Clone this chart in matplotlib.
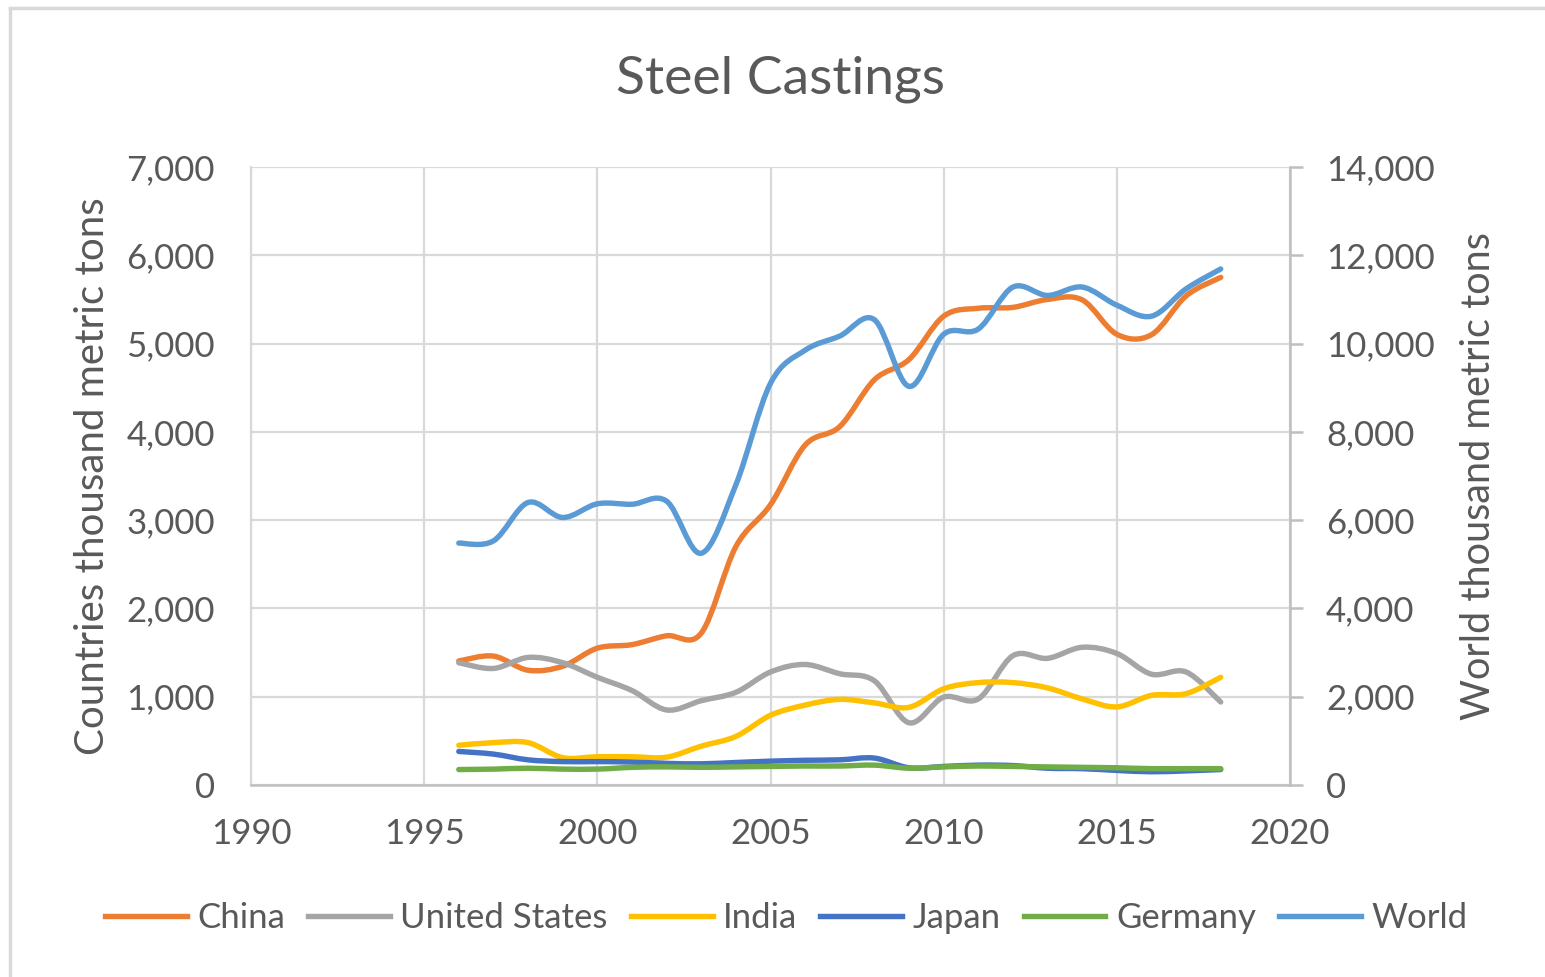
import numpy as np
import matplotlib.pyplot as plt
from matplotlib.path import Path
from matplotlib.patches import PathPatch
from matplotlib.lines import Line2D

plt.rcParams['font.family'] = ['Lato', 'DejaVu Sans']

years = list(range(1996, 2019))

china = [1405, 1460, 1300, 1345, 1550, 1590, 1690, 1720, 2700, 3175, 3850, 4060,
         4590, 4820, 5310, 5400, 5410, 5500, 5495, 5105, 5100, 5540, 5750]
usa = [1385, 1320, 1445, 1385, 1220, 1070, 850, 955, 1050, 1280, 1365, 1260,
       1180, 705, 995, 975, 1465, 1435, 1560, 1490, 1255, 1280, 940]
india = [450, 480, 480, 310, 320, 320, 315, 440, 550, 790, 905, 970,
         930, 880, 1090, 1160, 1160, 1100, 975, 885, 1015, 1035, 1220]
japan = [380, 350, 285, 265, 265, 260, 245, 240, 255, 270, 280, 285,
         305, 195, 210, 225, 220, 190, 185, 165, 150, 160, 175]
germany = [175, 180, 190, 180, 180, 200, 205, 200, 205, 210, 215, 215,
           225, 190, 205, 215, 210, 205, 200, 195, 185, 185, 185]
world = [5480, 5530, 6400, 6060, 6370, 6360, 6430, 5250, 6800, 9100, 9850, 10170,
         10540, 9030, 10210, 10330, 11280, 11090, 11280, 10870, 10620, 11240, 11690]

series_left = [("China", china, "#ED7D31"),
               ("United States", usa, "#A5A5A5"),
               ("India", india, "#FFC000"),
               ("Japan", japan, "#4472C4"),
               ("Germany", germany, "#70AD47")]
world_color = "#5B9BD5"

text_col = "#595959"
grid_col = "#D9D9D9"
axis_col = "#BFBFBF"
LW = 3.9
TICK_FS = 25


def smooth_path(x, y):
    # Catmull-Rom style bezier, like Excel's smoothed lines
    p = np.column_stack([x, y]).astype(float)
    n = len(p)
    verts = [p[0]]
    codes = [Path.MOVETO]
    for i in range(n - 1):
        p0 = p[i - 1] if i > 0 else p[i]
        p3 = p[i + 2] if i + 2 < n else p[i + 1]
        c1 = p[i] + (p[i + 1] - p0) / 6.0
        c2 = p[i + 1] - (p3 - p[i]) / 6.0
        verts += [c1, c2, p[i + 1]]
        codes += [Path.CURVE4] * 3
    return Path(verts, codes)


fig = plt.figure(figsize=(15.45, 9.77), dpi=100)
ax = fig.add_axes([251 / 1545, 1 - 785 / 977, (1290 - 251) / 1545, (785 - 167) / 977])
ax2 = ax.twinx()

for name, vals, col in series_left:
    ax.add_patch(PathPatch(smooth_path(years, vals), facecolor='none', edgecolor=col,
                           lw=LW, capstyle='round', joinstyle='round'))
ax2.add_patch(PathPatch(smooth_path(years, world), facecolor='none', edgecolor=world_color,
                        lw=LW, capstyle='round', joinstyle='round'))

ax.set_xlim(1990, 2020)
ax.set_ylim(0, 7000)
ax2.set_ylim(0, 14000)
ax.set_xticks(range(1990, 2021, 5))
ax.set_yticks(range(0, 7001, 1000))
ax2.set_yticks(range(0, 14001, 2000))
ax.yaxis.set_major_formatter(plt.FuncFormatter(lambda v, p: f"{int(v):,}"))
ax2.yaxis.set_major_formatter(plt.FuncFormatter(lambda v, p: f"{int(v):,}"))

ax.grid(True, color=grid_col, lw=1.6)
ax.set_axisbelow(True)
for s in ['top', 'right']:
    ax.spines[s].set_visible(False)
ax.spines['left'].set_color(grid_col)
ax.spines['left'].set_linewidth(1.6)
ax.spines['bottom'].set_color(axis_col)
ax.spines['bottom'].set_linewidth(1.8)
for s in ['top', 'left', 'bottom']:
    ax2.spines[s].set_visible(False)
ax2.spines['right'].set_color(axis_col)
ax2.spines['right'].set_linewidth(1.8)

ax.tick_params(axis='x', length=0, pad=24, labelsize=TICK_FS, labelcolor=text_col)
ax.tick_params(axis='y', length=0, pad=26, labelsize=TICK_FS, labelcolor=text_col)
ax2.tick_params(axis='y', length=9, width=1.8, color=axis_col, pad=17,
                labelsize=TICK_FS, labelcolor=text_col)

ax.set_ylabel("Countries thousand metric tons", fontsize=29, color=text_col)
ax2.set_ylabel("World thousand metric tons", fontsize=28.5, color=text_col)
ax.yaxis.set_label_coords(-0.135, 0.5)
ax2.yaxis.set_label_coords(1.164, 0.5)

fig.text(780 / 1545, 1 - 79 / 977, "Steel Castings", ha='center', va='center',
         fontsize=38.5, color=text_col)

handles = [Line2D([], [], color=c, lw=LW) for _, _, c in series_left]
handles.append(Line2D([], [], color=world_color, lw=LW))
labels = [n for n, _, _ in series_left] + ["World"]
fig.legend(handles, labels, loc='center', bbox_to_anchor=(786 / 1545, 1 - 918 / 977),
           ncol=6, frameon=False, fontsize=TICK_FS, labelcolor=text_col,
           handlelength=2.36, handletextpad=0.3, columnspacing=0.66)

fig.add_artist(Line2D([10 / 1545, 1.0], [1 - 8 / 977, 1 - 8 / 977],
                      transform=fig.transFigure, color=grid_col, lw=2.5))
fig.add_artist(Line2D([10 / 1545, 10 / 1545], [0, 1 - 8 / 977],
                      transform=fig.transFigure, color=grid_col, lw=2.5))

fig.savefig("out.png", dpi=100)
